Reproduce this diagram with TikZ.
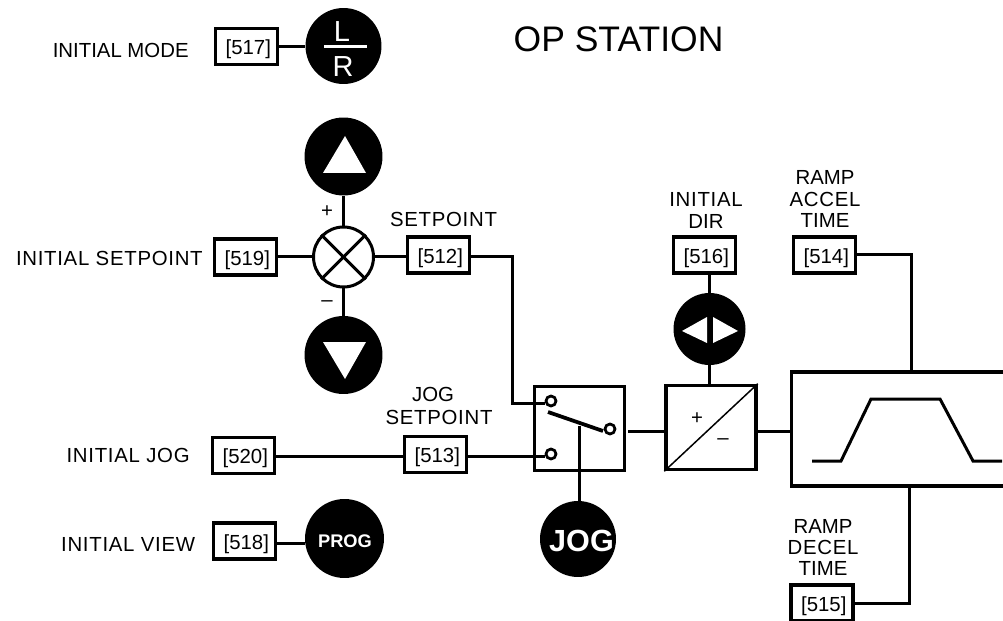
\documentclass[tikz,border=0pt]{standalone}
\usepackage{fontspec}
\setmainfont{Liberation Sans}
\usetikzlibrary{positioning,calc}
\newcommand{\spread}[1]{{\addfontfeature{LetterSpace=3.5}#1}}
\tikzset{
  parbox/.style={draw,line width=0.07cm,minimum width=1.24cm,minimum height=0.72cm,inner sep=0pt,text height=11pt,text depth=1.6pt,execute at begin node=\hspace*{2pt},font=\fontsize{11.6}{12}\selectfont},
  lab/.style={align=center,inner sep=0pt,font=\fontsize{11.6}{12.1}\selectfont},
  sign/.style={inner sep=0pt,font=\fontsize{11.6}{12}\selectfont},
  knob/.style={circle,fill=black,inner sep=0pt,minimum size=1.52cm},
  knobtext/.style={text=white,inner sep=0pt},
  blockbox/.style={draw,line width=0.07cm,inner sep=0pt,minimum width=1.8cm,minimum height=1.68cm},
  contact/.style={circle,draw,fill=white,line width=0.055cm,inner sep=0pt,minimum size=0.2cm},
  wire/.style={line width=0.06cm},
}
\begin{document}
\begin{tikzpicture}[x=0.02cm,y=-0.02cm]
  \useasboundingbox (0,0) rectangle (1003,621);
  \node[inner sep=0pt,font=\fontsize{20.2}{22}\selectfont] (title) at (618.5,39) {OP STATION};
  \node[parbox] (p517) at (246.5,46.5) {[517]};
  \node[parbox] (p519) at (245.5,257) {[519]};
  \node[parbox] (p512) at (438.5,255) {[512]};
  \node[parbox] (p520) at (243.5,455.5) {[520]};
  \node[parbox] (p513) at (435.5,454.5) {[513]};
  \node[parbox] (p518) at (244.5,541) {[518]};
  \node[parbox] (p516) at (704.5,255) {[516]};
  \node[parbox] (p514) at (824.5,255) {[514]};
  \node[parbox] (p515) at (822,603) {[515]};
  \node[lab,anchor=east] (lmode) at (189,50.5) {INITIAL MODE};
  \node[lab,anchor=east] (lsetp) at (203,258) {\spread{INITIAL SETPOINT}};
  \node[lab,anchor=east] (ljog) at (190,455.5) {\spread{INITIAL JOG}};
  \node[lab,anchor=east] (lview) at (195.5,544.5) {\spread{INITIAL VIEW}};
  \node[lab] (lsp) at (443.5,219) {\spread{SETPOINT}};
  \node[lab] (ljsp) at (433,394) {JOG};
  \node[lab] (ljsq) at (439,417) {\spread{SETPOINT}};
  \node[lab] (ldir) at (706,210.5) {\spread{INITIAL}\\DIR};
  \node[lab] (lacc) at (825,199) {RAMP\\\spread{ACCEL}\\TIME};
  \node[lab] (ldec) at (823,547.5) {RAMP\\\spread{DECEL}\\TIME};
  \node[knob] (lr) at (343.5,46) {};
  \node[knobtext,font=\fontsize{16.5}{18}\selectfont] (ltxt) at (342,32) {L};
  \node[knobtext,font=\fontsize{16.5}{18}\selectfont] (rtxt) at (343,67) {R};
  \draw[white,line width=0.06cm] (324,47) -- (367,47);
  \node[knob,minimum size=1.56cm] (up) at (343.5,156.5) {};
  \fill[white] (323,173) -- (366,173) -- (345,136) -- cycle;
  \node[knob,minimum size=1.56cm] (down) at (343.5,355) {};
  \fill[white] (323,342) -- (366,342) -- (345,379) -- cycle;
  \node[circle,draw,line width=0.06cm,inner sep=0pt,minimum size=1.2cm] (sum) at (343.5,257) {};
  \draw[wire] (sum.north west) -- (sum.south east);
  \draw[wire] (sum.north east) -- (sum.south west);
  \node[sign] (plus) at (327,212) {+};
  \node[sign] (minus) at (327,304) {--};
  \node[knob,minimum size=1.58cm] (prog) at (344.5,538.5) {};
  \node[knobtext,font=\fontsize{10.4}{12}\selectfont\bfseries] (progtxt) at (345,541) {PROG};
  \node[knob] (jog) at (578,539) {};
  \node[knobtext,font=\fontsize{17.4}{19}\selectfont\bfseries] (jogtxt) at (581.5,541) {JOG};
  \node[knob,minimum size=1.44cm] (dir) at (709.5,329) {};
  \fill[white] (682,331) -- (707,317) -- (707,343) -- cycle;
  \fill[white] (738,331) -- (713,317) -- (713,343) -- cycle;
  \node[blockbox] (switch) at (579.5,428.5) {};
  \node[blockbox] (conv) at (711,427.5) {};
  \draw[line width=0.03cm] (conv.north east) -- (conv.south west);
  \node[sign] (cplus) at (697,419) {+};
  \node[sign] (cminus) at (723,442) {--};
  \node[inner sep=0pt,minimum width=4.22cm,minimum height=2.26cm] (ramp) at (897.5,429) {};
  \draw[line width=0.07cm] (ramp.north east) -- (ramp.north west) -- (ramp.south west) -- (ramp.south east);
  \draw[wire] (812,461) -- (841,461) -- (871,399) -- (940,399) -- (973,461) -- (1002,461);
  \coordinate (accin) at (911,371);
  \coordinate (decin) at (909,488);
  \coordinate (swout) at (628,431);
  \coordinate (pivot) at (579.5,426);
  \coordinate (swin) at (512,403);
  \coordinate (jogline) at (300,456.5);
  \coordinate (progin) at (300,543);
  \node[contact] (c1) at (551,401) {};
  \node[contact] (c2) at (551,454) {};
  \node[contact] (c3) at (610,429) {};
  \draw[line width=0.075cm] (548,412) -- (603,431);
  \draw[wire] (p517.east) -- (p517.east -| lr.west);
  \draw[wire] (up) -- (sum);
  \draw[wire] (sum) -- (down);
  \draw[wire] (p519) -- (sum);
  \draw[wire] (sum) -- (sum -| p512.west);
  \draw[wire] (p512.east |- sum) -| (swin) -- (swin -| c1.west);
  \draw[wire] (p520.east |- jogline) -- (p513.west |- jogline);
  \draw[wire] (p513.east |- jogline) -- (c2.west |- jogline);
  \draw[wire] (p518.east |- progin) -- (progin -| prog.west);
  \draw[wire] (pivot) -- (jog.north -| pivot);
  \draw[wire] (swout) -- (swout -| conv.west);
  \draw[wire] (conv.east |- swout) -- (ramp.west |- swout);
  \draw[wire] (p516.south -| dir) -- (dir);
  \draw[wire] (dir) -- (conv.north -| dir);
  \draw[wire] (p514) -| (accin);
  \draw[wire] (p515) -| (decin);
\end{tikzpicture}
\end{document}
